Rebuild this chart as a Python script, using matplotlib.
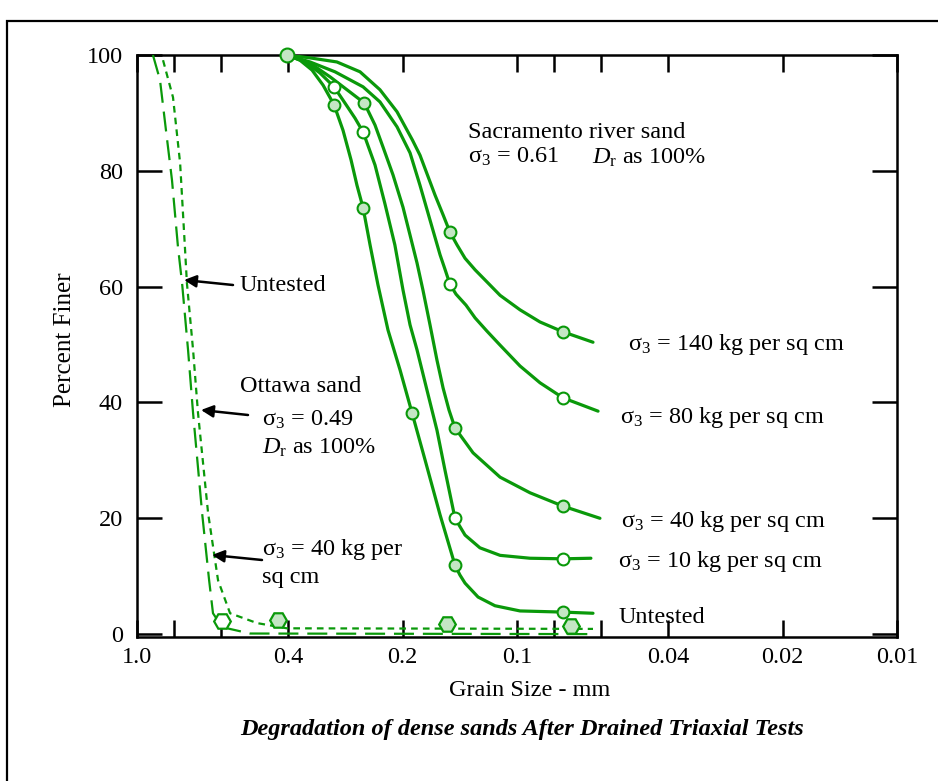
import matplotlib
matplotlib.use('Agg')
import matplotlib.pyplot as plt
from matplotlib.patches import Rectangle, FancyArrowPatch
from matplotlib.ticker import FixedLocator, FixedFormatter, NullFormatter

plt.rcParams['font.family'] = ['Liberation Serif', 'DejaVu Serif']
plt.rcParams['mathtext.fontset'] = 'custom'
plt.rcParams['mathtext.rm'] = 'Liberation Serif'
plt.rcParams['mathtext.it'] = 'Liberation Serif:italic'
plt.rcParams['mathtext.bf'] = 'Liberation Serif:bold'

GREEN = '#0a990a'
LIGHT = '#c4e6c4'

# --- Sacramento river sand (solid curves), grain size mm vs percent finer
untested_d = [0.403, 0.3725, 0.3463, 0.3239, 0.303, 0.287, 0.2734, 0.2637, 0.2541, 0.2436, 0.2322,
              0.2185, 0.2031, 0.1889, 0.1746, 0.1594, 0.1456, 0.1413, 0.137, 0.1266, 0.1143, 0.0982,
              0.0757, 0.0631]
untested_p = [100, 99.1, 97.4, 94.8, 91.4, 87.0, 81.9, 77.5, 73.6, 67.2, 60.3,
              52.5, 45.6, 38.2, 30.1, 20.6, 11.9, 10.2, 8.8, 6.4, 4.9, 4.0,
              3.8, 3.6]

s10_d = [0.403, 0.3613, 0.33, 0.303, 0.2836, 0.2669, 0.2541, 0.2364, 0.2226, 0.2096, 0.1995,
         0.1912, 0.1833, 0.1725, 0.1624, 0.1547, 0.1456, 0.137, 0.1252, 0.1108, 0.0924, 0.0757, 0.0639]
s10_p = [100, 98.8, 96.9, 94.5, 91.7, 89.1, 86.7, 81.0, 74.3, 67.2, 59.4,
         53.4, 49.1, 42.1, 35.2, 28.3, 20.0, 17.1, 14.9, 13.6, 13.1, 13.0, 13.1]

s40_d = [0.403, 0.3505, 0.31, 0.2751, 0.2522, 0.2364, 0.2252, 0.212, 0.1995, 0.1912, 0.1833,
         0.1768, 0.1694, 0.1624, 0.1565, 0.151, 0.1456, 0.1305, 0.1108, 0.0924, 0.0757, 0.0605]
s40_p = [100, 98.6, 96.2, 93.6, 91.7, 87.9, 84.1, 79.3, 73.7, 68.9, 64.1,
         59.4, 53.4, 47.3, 42.5, 38.7, 35.6, 31.3, 27.1, 24.4, 22.1, 20.0]

s80_d = [0.403, 0.3505, 0.3013, 0.2541, 0.2294, 0.2069, 0.1912, 0.18, 0.1694, 0.1594, 0.1547,
         0.1501, 0.1447, 0.1362, 0.1289, 0.1199, 0.1108, 0.0982, 0.087, 0.0757, 0.0612]
s80_p = [100, 98.8, 97.1, 94.5, 91.9, 87.6, 83.1, 77.5, 71.5, 65.5, 63.0,
         60.4, 58.7, 56.8, 54.6, 52.3, 49.9, 46.3, 43.4, 40.8, 38.5]

s140_d = [0.403, 0.3505, 0.2979, 0.2589, 0.2294, 0.2069, 0.1884, 0.18, 0.1643, 0.1565, 0.1501,
          0.1438, 0.137, 0.1289, 0.1199, 0.1108, 0.0982, 0.087, 0.0757, 0.0631]
s140_p = [100, 99.5, 98.8, 97.1, 94.0, 90.2, 85.3, 82.7, 75.8, 72.4, 69.4,
          67.2, 64.9, 62.9, 60.8, 58.5, 56.0, 53.9, 52.2, 50.4]

# test points on the curves
start_d, start_p = [0.403], [100]
untested_pts_d = [0.303, 0.2541, 0.1889, 0.1456, 0.0757]
untested_pts_p = [91.4, 73.6, 38.2, 11.9, 3.8]
s10_pts_d = [0.303, 0.2541, 0.1456, 0.0757]
s10_pts_p = [94.5, 86.7, 20.0, 13.0]
s40_pts_d = [0.2522, 0.1456, 0.0757]
s40_pts_p = [91.7, 35.6, 22.1]
s80_pts_d = [0.1501, 0.0757]
s80_pts_p = [60.4, 40.8]
s140_pts_d = [0.1501, 0.0757]
s140_pts_p = [69.4, 52.2]

# --- Ottawa sand (dashed curves)
ott_untested_d = [0.908, 0.87, 0.839, 0.809, 0.78, 0.761, 0.734, 0.712, 0.674, 0.646, 0.631, 0.597, 0.504, 0.0623]
ott_untested_p = [100, 95.7, 87.0, 78.4, 66.8, 60.6, 49.1, 38.2, 20.9, 9.3, 3.6, 1.2, 0.1, 0.0]

ott_40_d = [0.854, 0.804, 0.77, 0.748, 0.739, 0.712, 0.691, 0.65, 0.612, 0.569, 0.483, 0.403, 0.0631]
ott_40_p = [99.1, 92.7, 81.3, 66.8, 60.6, 49.1, 38.2, 20.9, 9.3, 3.6, 1.9, 1.0, 0.9]

hex_open_d, hex_open_p = [0.597], [2.2]
hex_fill_d = [0.426, 0.153, 0.072]
hex_fill_p = [2.4, 1.7, 1.4]

xtick_major = [1.0, 0.4, 0.2, 0.1, 0.04, 0.02, 0.01]
xtick_labels = ['1.0', '0.4', '0.2', '0.1', '0.04', '0.02', '0.01']
xtick_minor = [0.8, 0.6, 0.08, 0.06]
ytick_vals = [0, 20, 40, 60, 80, 100]

W, H = 938, 781


def px(x, y):
    return x / W, 1 - y / H


fig = plt.figure(figsize=(W / 100, H / 100), dpi=100)
ax = fig.add_axes([137 / W, 1 - 637 / H, 760 / W, 582 / H])

# solid curves
for d, p in [(untested_d, untested_p), (s10_d, s10_p), (s40_d, s40_p), (s80_d, s80_p), (s140_d, s140_p)]:
    ax.plot(d, p, color=GREEN, lw=2.3, solid_capstyle='round', solid_joinstyle='round', zorder=3)

# dashed curves
ax.plot(ott_untested_d, ott_untested_p, color=GREEN, lw=1.6, linestyle=(0, (9, 4)), zorder=3)
ax.plot(ott_40_d, ott_40_p, color=GREEN, lw=1.6, linestyle=(0, (3, 2.3)), zorder=3)

# markers
mk = dict(linestyle='none', marker='o', ms=8.5, mew=1.5, mec=GREEN, zorder=4)
for d, p in [(untested_pts_d, untested_pts_p), (s40_pts_d, s40_pts_p), (s140_pts_d, s140_pts_p)]:
    ax.plot(d, p, mfc=LIGHT, **mk)
for d, p in [(s10_pts_d, s10_pts_p), (s80_pts_d, s80_pts_p)]:
    ax.plot(d, p, mfc='white', **mk)
ax.plot(start_d, start_p, linestyle='none', marker='o', ms=10, mew=1.5, mec=GREEN, mfc=LIGHT,
        zorder=4, clip_on=False)

hx = dict(linestyle='none', marker='H', ms=12, mew=1.6, mec=GREEN, zorder=4, clip_on=False)
ax.plot(hex_open_d, hex_open_p, mfc='white', **hx)
ax.plot(hex_fill_d, hex_fill_p, mfc=LIGHT, **hx)

# axes setup
ax.set_xscale('log')
ax.set_xlim(1.0, 0.01)
ax.set_ylim(-0.5, 100)
ax.xaxis.set_major_locator(FixedLocator(xtick_major))
ax.xaxis.set_major_formatter(FixedFormatter(xtick_labels))
ax.xaxis.set_minor_locator(FixedLocator(xtick_minor))
ax.xaxis.set_minor_formatter(NullFormatter())
ax.set_yticks(ytick_vals)
ax.tick_params(axis='x', which='both', direction='in', length=12, width=1.8,
               top=True, bottom=True, labelsize=17.5, pad=7)
ax.tick_params(axis='y', direction='in', length=18, width=1.8,
               left=True, right=True, labelsize=17.5, pad=10)
for s in ax.spines.values():
    s.set_linewidth(1.8)

fig.text(*px(65, 340), 'Percent Finer', rotation=90, ha='center', va='center', fontsize=18)
fig.text(*px(530, 690), 'Grain Size - mm', ha='center', va='center', fontsize=17.5)
fig.text(*px(522, 729), 'Degradation of dense sands After Drained Triaxial Tests',
         ha='center', va='center', fontsize=17.5, fontweight='bold', fontstyle='italic')

# annotations (left x, baseline y in pixels)
labels = [
    (468, 138, 'Sacramento river sand'),
    (468, 163, 'σ$_3$ = 0.61'),
    (592, 164, '$D_\\mathrm{r}$ as 100%'),
    (628, 350, 'σ$_3$ = 140 kg per sq cm'),
    (620, 423, 'σ$_3$ = 80 kg per sq cm'),
    (621, 527, 'σ$_3$ = 40 kg per sq cm'),
    (618, 567, 'σ$_3$ = 10 kg per sq cm'),
    (619, 623, 'Untested'),
    (240, 291, 'Untested'),
    (240, 392, 'Ottawa sand'),
    (262, 426, 'σ$_3$ = 0.49'),
    (262, 454, '$D_\\mathrm{r}$ as 100%'),
    (262, 555, 'σ$_3$ = 40 kg per'),
    (262, 583, 'sq cm'),
]
for x, y, t in labels:
    fig.text(*px(x, y), t, ha='left', va='baseline', fontsize=17.5)

arrows = [((233, 285), (184, 280)), ((248, 415), (201, 410)), ((262, 560), (212, 555))]
for tail, head in arrows:
    fig.add_artist(FancyArrowPatch(
        px(*tail), px(*head), transform=fig.transFigure, arrowstyle='-|>',
        mutation_scale=18, lw=1.8, color='black', shrinkA=0, shrinkB=0))

# outer frame
fig.add_artist(Rectangle((7 / W, -0.2), 2, 1 - 21 / H + 0.2, transform=fig.transFigure,
                         fill=False, lw=1.6, edgecolor='black', clip_on=False))

fig.savefig('out.png', dpi=100)
